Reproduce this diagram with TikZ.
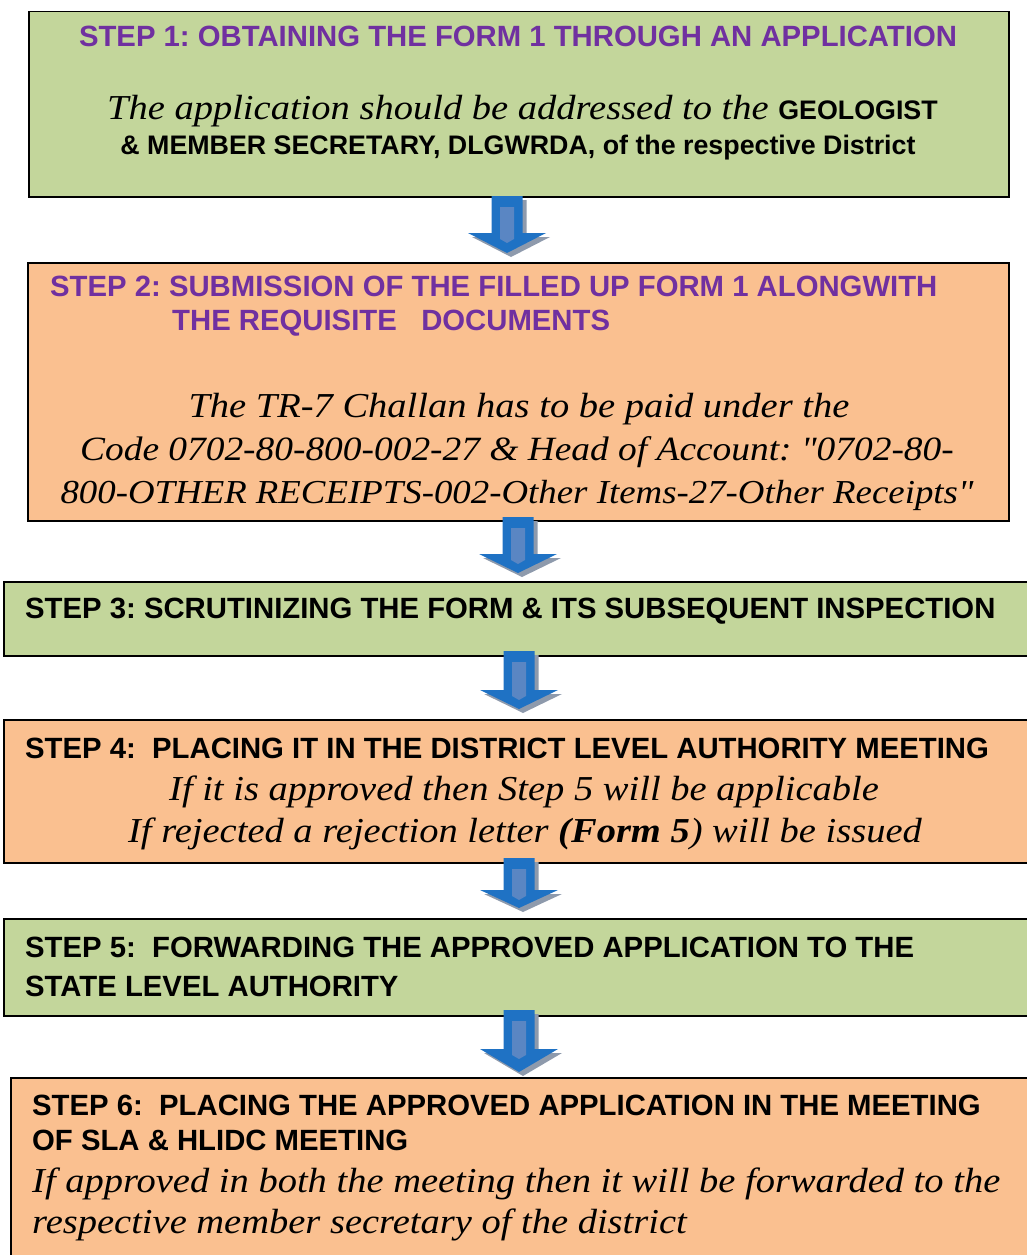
\documentclass[tikz,border=0pt]{standalone}
\usepackage{fontspec}
\setmainfont{Liberation Serif}
\newfontfamily\hf{Liberation Sans}
\newfontfamily\itf{Liberation Serif}[FakeStretch=1.1]
\definecolor{boxgreen}{HTML}{C3D69B}
\definecolor{boxorange}{HTML}{FAC090}
\definecolor{steppurple}{HTML}{7030A0}
\definecolor{arrowblue}{HTML}{1F72C4}
\definecolor{arrowstripe}{HTML}{5A86C3}
\definecolor{arrowshadow}{HTML}{8E9AAC}
\tikzset{
 stepbox/.style={draw=black, line width=1.5pt, inner sep=0pt, anchor=north west},
 greenbox/.style={stepbox, fill=boxgreen},
 orangebox/.style={stepbox, fill=boxorange},
 head/.style={inner sep=0pt, font=\frenchspacing\hf\bfseries\fontsize{29.3}{34}\selectfont},
 purplehead/.style={head, text=steppurple},
 subhead/.style={inner sep=0pt, font=\frenchspacing\hf\bfseries\fontsize{26.8}{30}\selectfont},
 ital/.style={inner sep=0pt, font=\frenchspacing\itf\itshape\fontsize{#1}{42}\selectfont},
 ital/.default=35,
}
\newcommand\blockarrow[4]{%
 \begin{scope}[shift={(4,4)}]
  \fill[arrowshadow] ({#1-15.5},#2) -- ({#1+15.5},#2) -- ({#1+15.5},#3) -- ({#1+39},#3) -- (#1,#4) -- ({#1-39},#3) -- ({#1-15.5},#3) -- cycle;
 \end{scope}
 \fill[arrowblue] ({#1-15.5},#2) -- ({#1+15.5},#2) -- ({#1+15.5},#3) -- ({#1+39},#3) -- (#1,#4) -- ({#1-39},#3) -- ({#1-15.5},#3) -- cycle;
 \fill[arrowstripe] ({#1-7},{#2+11}) -- ({#1+7},{#2+11}) -- ({#1+7},{#3+6}) -- (#1,{#3+10}) -- ({#1-7},{#3+6}) -- cycle;
}
\begin{document}
\begin{tikzpicture}[x=1pt,y=-1pt]
\useasboundingbox (0,0) rectangle (1027,1255);
% boxes
\node[greenbox, minimum width=980pt, minimum height=185pt] (b1) at (28,11) {};
\node[orangebox, minimum width=981pt, minimum height=258pt] (b2) at (27,262) {};
\node[greenbox, minimum width=1040pt, minimum height=74pt] (b3) at (3,581) {};
\node[orangebox, minimum width=1040pt, minimum height=143pt] (b4) at (3,719) {};
\node[greenbox, minimum width=1040pt, minimum height=97pt] (b5) at (3,918) {};
\node[orangebox, minimum width=1040pt, minimum height=200pt] (b6) at (10,1077) {};
% arrows
\blockarrow{507}{196}{233}{253}
\blockarrow{518}{517}{554}{573}
\blockarrow{519}{651}{690}{709}
\blockarrow{519}{858}{890}{908}
\blockarrow{519}{1010}{1049}{1072}
% step 1
\node[purplehead, anchor=base] (t1) at (518,47) {STEP 1: OBTAINING THE FORM 1 THROUGH AN APPLICATION};
\node[ital, anchor=base west] (t1b) at (107,119) {The application should be addressed to the {\hf\upshape\bfseries\fontsize{26.8}{30}\selectfont GEOLOGIST}};
\node[subhead, anchor=base] (t1c) at (518,154) {\& MEMBER SECRETARY, DLGWRDA, of the respective District};
% step 2
\node[purplehead, anchor=base west] (t2) at (50,296) {STEP 2: SUBMISSION OF THE FILLED UP FORM 1 ALONGWITH};
\node[purplehead, anchor=base west] (t2b) at (172,330) {THE REQUISITE~~~DOCUMENTS};
\node[ital, anchor=base] (t2c) at (519,417) {The TR-7 Challan has to be paid under the};
\node[ital=34, anchor=base] (t2d) at (517,460) {Code 0702-80-800-002-27 \& Head of Account: "0702-80-};
\node[ital=33.5, anchor=base] (t2e) at (517,503) {800-OTHER RECEIPTS-002-Other Items-27-Other Receipts"};
% step 3
\node[head, anchor=base west] (t3) at (25,618) {STEP 3: SCRUTINIZING THE FORM \& ITS SUBSEQUENT INSPECTION};
% step 4
\node[head, anchor=base west] (t4) at (25,758) {STEP 4:\ \ PLACING IT IN THE DISTRICT LEVEL AUTHORITY MEETING};
\node[ital, anchor=base] (t4b) at (524,800) {If it is approved then Step 5 will be applicable};
\node[ital, anchor=base] (t4c) at (525,842) {If rejected a rejection letter {\bfseries(Form 5})\ will be issued};
% step 5
\node[head, anchor=base west] (t5) at (25,957) {STEP 5:\ \ FORWARDING THE APPROVED APPLICATION TO THE};
\node[head, anchor=base west] (t5b) at (25,996) {STATE LEVEL AUTHORITY};
% step 6
\node[head, anchor=base west] (t6) at (32,1115) {STEP 6:\ \ PLACING THE APPROVED APPLICATION IN THE MEETING};
\node[head, anchor=base west] (t6b) at (32,1150) {OF SLA \& HLIDC MEETING};
\node[ital, anchor=base west] (t6c) at (32,1192) {If approved in both the meeting then it will be forwarded to the};
\node[ital, anchor=base west] (t6d) at (32,1233) {respective member secretary of the district};
\end{tikzpicture}
\end{document}
